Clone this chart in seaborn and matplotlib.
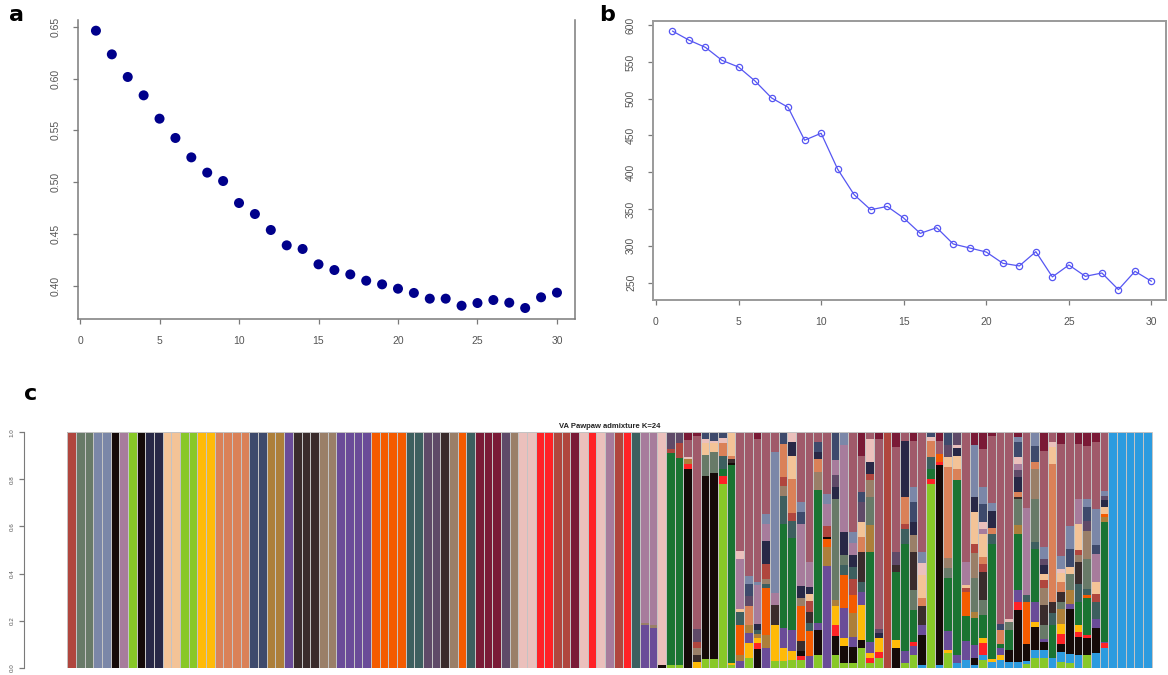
import matplotlib
matplotlib.use("Agg")
import matplotlib.pyplot as plt
import seaborn as sns

# ---------------------------------------------------------------- data
k_values = list(range(1, 31))

# panel a: cross-validation error for each K
cv_error = [0.6461, 0.6233, 0.6015, 0.5838, 0.5613, 0.5427, 0.5240, 0.5093,
            0.5012, 0.4800, 0.4694, 0.4540, 0.4392, 0.4357, 0.4209, 0.4154,
            0.4112, 0.4051, 0.4016, 0.3974, 0.3933, 0.3878, 0.3878, 0.3810,
            0.3836, 0.3865, 0.3839, 0.3788, 0.3891, 0.3936]

# panel b: second statistic for each K
k_statistic = [591.9, 579.6, 569.7, 552.1, 543.0, 524.0, 501.0, 488.3, 443.5,
               453.0, 404.2, 369.4, 349.0, 353.5, 337.7, 316.9, 324.6, 302.4,
               297.0, 291.5, 276.2, 272.6, 292.0, 257.7, 273.9, 258.5, 263.0,
               240.4, 265.3, 251.8]

# panel c: ancestry clusters and their colours
cluster_names = ["lime", "blue", "black", "red", "gold", "purple", "orange",
                 "ochre", "green", "brick", "teal", "sage", "taupe", "umber",
                 "salmon", "peach", "blush", "slate", "navy", "plum", "mauve",
                 "steel", "rose", "maroon"]
cluster_colors = ["#88C828", "#2C9BDF", "#150A08", "#FF2226", "#FFBA08",
                  "#6A4C98", "#F45B00", "#AD7F3A", "#1A7432", "#B0463E",
                  "#3D5F5F", "#687A68", "#9A7F68", "#3A2C2C", "#DA8158",
                  "#F3C397", "#EBC0BC", "#3E4A6C", "#282846", "#5F4A68",
                  "#A77C9C", "#7B87A8", "#A05A6A", "#7A1A36"]

# single-cluster individuals (samples 1-66)
pure_samples = ["brick", "sage", "sage", "steel", "steel", "black", "mauve",
                "lime", "black", "navy", "navy", "peach", "peach", "lime",
                "lime", "gold", "gold", "salmon", "salmon", "salmon", "salmon",
                "slate", "slate", "ochre", "ochre", "purple", "umber", "umber",
                "umber", "taupe", "taupe", "purple", "purple", "purple",
                "purple", "orange", "orange", "orange", "orange", "teal",
                "teal", "plum", "plum", "umber", "taupe", "orange", "teal",
                "maroon", "maroon", "maroon", "plum", "taupe", "blush",
                "blush", "red", "red", "brick", "brick", "maroon", "blush",
                "red", "blush", "mauve", "brick", "red", "teal"]

# admixed individuals (samples 67-120), ancestry % listed bottom to top
admixed_samples = [
    "purple:18 taupe:1 mauve:81",
    "purple:17 taupe:1 mauve:82",
    "black:1 blush:99",
    "lime:1 green:90 brick:2 plum:7",
    "lime:1 green:88 brick:6.5 plum:4.5",
    "black:85 red:2 ochre:2 blush:1 rose:7 maroon:3.5",
    "gold:2.5 umber:3 taupe:3 brick:2.5 plum:5.5 rose:82 maroon:1.5",
    "lime:3.5 black:78 sage:9 peach:5 blush:1.5 slate:3",
    "lime:3.5 black:79 sage:9 peach:4 blush:1 slate:3.5",
    "lime:78 red:3.5 green:3 teal:5.5 salmon:5.5 blush:2 slate:2.5",
    "lime:1 gold:1 green:84 black:1 umber:1.5 salmon:1.5 peach:9.5 maroon:0.5",
    "purple:2.7 ochre:2.8 orange:12.8 teal:5.4 peach:1 mauve:21.3 blush:3.5 rose:50.4",
    "lime:4 gold:6.4 purple:4.3 ochre:3.6 salmon:7.8 plum:4.3 slate:5 steel:3.6 rose:61",
    "black:8 red:2.4 gold:2 ochre:2 teal:1.4 navy:2.8 mauve:16.3 steel:1.4 rose:60.4 maroon:2.8",
    "purple:8.4 ochre:5.7 orange:20 teal:1.7 taupe:1.8 brick:6.4 navy:10 mauve:7 steel:4.3 rose:34.8",
    "lime:2.7 gold:15.6 umber:8.5 mauve:5 steel:59.7 rose:8.5",
    "lime:2.7 gold:5.7 purple:8.5 green:44 teal:12 taupe:4.3 brick:3.6 salmon:14.2 slate:5",
    "lime:3.4 gold:3.6 purple:9.2 green:39 teal:7.1 brick:3.6 salmon:14.2 peach:10 navy:5.7 blush:4.3",
    "lime:3.4 red:1.4 black:2.1 umber:4.3 orange:15 taupe:3.6 navy:5 mauve:26.3 slate:5 steel:4.3 rose:29.8",
    "purple:4.8 orange:10.6 teal:3.5 umber:4.2 brick:4.9 peach:2.8 navy:2.8 mauve:10.6 rose:54.3",
    "lime:5.5 black:10.6 purple:2.8 green:56.4 taupe:7.8 salmon:5.6 navy:2.8 slate:4.2 rose:4.2",
    "purple:43 ochre:7.8 orange:3.5 black:0.7 brick:5 mauve:9.2 steel:4.2 rose:26",
    "lime:5.5 black:7.8 red:5 gold:7.8 ochre:2.8 sage:43 navy:5 plum:5 mauve:6.3 slate:12",
    "lime:2 black:7 gold:3.5 purple:12.7 orange:14.1 teal:4.2 sage:4.2 navy:9.9 mauve:36.7 steel:5.6",
    "lime:2 black:7 purple:4.2 ochre:9.9 orange:7.8 brick:7 teal:5 navy:5 mauve:5 steel:5 rose:42.3",
    "lime:8.3 black:3.5 gold:14.8 purple:5.6 teal:4.2 umber:12.7 salmon:6.3 peach:6.3 plum:8.5 slate:4.2 rose:15.5 maroon:9.9",
    "lime:2 red:2.1 gold:2.1 purple:4.9 green:38 ochre:11.3 sage:12 taupe:7 brick:2.8 navy:4.9 blush:9.9 rose:2.8",
    "lime:4 red:2.8 gold:5.6 navy:2.1 plum:2.1 rose:80.4 maroon:2.8",
    "brick:100",
    "black:8.3 gold:3.5 green:29 umber:2.8 plum:5.6 rose:44.4 maroon:6.3",
    "lime:2 purple:4.9 green:45.8 teal:6.3 brick:2.1 salmon:11.3 navy:24 rose:3.5",
    "lime:5.5 purple:3.5 red:2.1 green:13.4 sage:8.5 umber:16.2 taupe:7 navy:5.6 slate:8.5 steel:6.3 rose:19.7 maroon:3.5",
    "blue:1.3 black:12.7 purple:4.2 umber:7.8 salmon:3.5 peach:9.9 blush:4.9 steel:4.9 rose:50.8",
    "lime:77.7 red:2.5 green:4.2 teal:4.9 salmon:7 blush:1.4 slate:2.1",
    "blue:1.3 black:84.6 red:1.4 orange:3.5 rose:5.6 maroon:3.5",
    "lime:6.2 gold:1.4 purple:7.8 green:22.6 sage:4.2 taupe:4.2 salmon:38.8 peach:4.2 plum:5 slate:5.6",
    "blue:2 purple:3.5 green:77.6 salmon:5 peach:5.6 navy:3.5 blush:1.4 plum:5.6",
    "blue:3.4 purple:7.8 green:10.6 orange:10.6 brick:1.4 peach:1.4 mauve:9.9 rose:55",
    "blue:1.3 black:2.8 purple:5.6 green:11.3 ochre:2.8 sage:14.1 taupe:10.6 brick:4.2 peach:13.4 navy:6.3 steel:21.9 maroon:5.6",
    "lime:3.3 blue:2.1 red:5 gold:2.1 green:9.9 sage:6.4 umber:12 brick:3.5 salmon:2.8 peach:9.9 mauve:2.1 blush:2.8 slate:7.8 steel:7.1 rose:16.3 maroon:7.1",
    "blue:2.5 gold:1.4 green:49.6 teal:4.2 salmon:2.8 navy:7.1 steel:3.5 rose:29 maroon:1.5",
    "blue:3.3 gold:2.1 purple:2.8 green:2.1 salmon:5.7 slate:2.8 rose:81.4",
    "blue:2.5 black:5 green:8.5 sage:3.5 blush:1.4 rose:79.3",
    "blue:2.5 black:22 red:3.5 purple:5 green:24 ochre:3.5 sage:11 umber:1 salmon:2.1 navy:6.4 plum:2.8 mauve:2.8 blush:2.8 slate:6.4 steel:2.1 maroon:2.1",
    "lime:1.4 blue:1.4 black:7.1 orange:17.7 teal:2.8 mauve:36.8 rose:31.9",
    "lime:4 blue:3.5 black:9.9 gold:2.1 purple:8.5 green:22.7 teal:2.8 sage:18.4 taupe:12.7 salmon:2.8 slate:7.1 steel:5.7",
    "lime:4 blue:3.5 black:3.5 purple:1.4 sage:5.7 umber:8.5 taupe:7.1 brick:3.5 peach:2.8 navy:3.5 plum:2.8 steel:5 rose:41 maroon:7.8",
    "blue:4 green:14.4 teal:4.7 umber:5 salmon:58.8 peach:7.1 blush:2.1 rose:4.2",
    "lime:2.5 blue:4.2 black:3.5 red:4.2 gold:4.2 ochre:6.4 sage:2.8 umber:4.2 salmon:4.2 peach:4.2 blush:1.4 steel:5.7 rose:47.5 maroon:5",
    "lime:1.8 blue:4.2 black:19 purple:2.1 ochre:5.7 sage:7.1 peach:2.8 slate:7.8 steel:9.9 rose:39.6",
    "blue:5.4 black:7.8 red:2.1 gold:2.8 green:9.9 teal:7.8 umber:9.2 taupe:2.8 brick:2.1 peach:11.3 mauve:10.6 rose:23.4 maroon:5",
    "lime:5.4 black:7.1 red:1.4 green:15.6 orange:1.4 teal:2.8 sage:12.7 taupe:12 plum:4.2 slate:5.7 steel:3.5 rose:22.7 maroon:5.7",
    "blue:6.1 black:10.6 purple:4.2 teal:7.1 brick:3.5 peach:5 mauve:12 slate:3.5 steel:15.6 rose:28.3 maroon:4.2",
    "blue:8.2 red:2.1 purple:0.7 green:51 ochre:2.1 orange:1.4 peach:2.8 navy:2.8 plum:2.1 steel:2.1 rose:24.8",
]

# single-cluster individuals at the end (samples 121-125)
tail_samples = ["blue", "blue", "blue", "blue", "blue"]

y_ticks_c = [0.0, 0.2, 0.4, 0.6, 0.8, 1.0]
title_c = "VA Pawpaw admixture K=24"

# ---------------------------------------------------------------- style
sns.set_theme(style="white")
plt.rcParams["font.family"] = ["Liberation Sans", "DejaVu Sans"]
AXIS_GREY = "#7a7a7a"
TEXT_GREY = "#555555"

W, H = 1168, 675
fig = plt.figure(figsize=(W / 100, H / 100), dpi=100)


def px_box(left, top, right, bottom):
    return [left / W, 1 - bottom / H, (right - left) / W, (bottom - top) / H]


def style_axes(ax, sides, label_size=7.5, pad=9):
    for side in ["left", "right", "top", "bottom"]:
        ax.spines[side].set_visible(side in sides)
        ax.spines[side].set_color(AXIS_GREY)
        ax.spines[side].set_linewidth(1.1)
    ax.tick_params(axis="both", direction="out", length=3.5, width=0.9,
                   color=AXIS_GREY, labelcolor=TEXT_GREY,
                   labelsize=label_size, pad=pad,
                   left=True, bottom=True)
    for lab in ax.get_yticklabels():
        lab.set_rotation(90)
        lab.set_va("center")


# ---------------------------------------------------------------- panel a
ax_a = fig.add_axes(px_box(77.5, 19.6, 575.4, 319.1))
sns.scatterplot(x=k_values, y=cv_error, color="#00008B", s=52,
                edgecolor="none", ax=ax_a)
ax_a.set_xlim(-0.16, 31.16)
ax_a.set_ylim(0.3681, 0.6568)
ax_a.set_xticks([0, 5, 10, 15, 20, 25, 30])
ax_a.set_yticks([0.40, 0.45, 0.50, 0.55, 0.60, 0.65])
ax_a.set_yticklabels(["0.40", "0.45", "0.50", "0.55", "0.60", "0.65"])
style_axes(ax_a, ["left", "bottom", "right"])

# ---------------------------------------------------------------- panel b
ax_b = fig.add_axes(px_box(653.3, 20.7, 1166, 300))
sns.lineplot(x=k_values, y=k_statistic, color="#5656F2", linewidth=0.9,
             marker="o", markersize=4.5, markerfacecolor="none",
             markeredgecolor="#5656F2", markeredgewidth=0.9, ax=ax_b)
ax_b.set_xlim(-0.16, 30.88)
ax_b.set_ylim(226.3, 606.0)
ax_b.set_xticks([0, 5, 10, 15, 20, 25, 30])
ax_b.set_yticks([250, 300, 350, 400, 450, 500, 550, 600])
ax_b.set_yticklabels(["250", "300", "350", "400", "450", "500", "550", "600"])
style_axes(ax_b, ["left", "bottom", "right", "top"])
for side in ax_b.spines.values():
    side.set_color("#9a9a9a")
    side.set_linewidth(1.4)

# ---------------------------------------------------------------- panel c
palette = dict(zip(cluster_names, cluster_colors))


def parse_sample(entry):
    if ":" not in entry:
        return [(entry, 1.0)]
    parts = [p.split(":") for p in entry.split()]
    segs = [(name, float(val)) for name, val in parts]
    total = sum(v for _, v in segs)
    return [(name, v / total) for name, v in segs]


samples = pure_samples + admixed_samples + tail_samples
ax_c = fig.add_axes(px_box(23.9, 432.3, 1154.3, 667.7))
for i, entry in enumerate(samples):
    base = 0.0
    for name, share in parse_sample(entry):
        ax_c.bar(i, share, width=1.0, bottom=base, align="edge",
                 color=palette[name], linewidth=0)
        base += share
ax_c.bar(range(len(samples)), [1.0] * len(samples), width=1.0, align="edge",
         fill=False, edgecolor="#c4c4c4", linewidth=0.7)
ax_c.set_xlim(-5, 125.3)
ax_c.set_ylim(0, 1)
ax_c.set_xticks([])
ax_c.set_yticks(y_ticks_c)
ax_c.set_yticklabels([f"{v:.1f}" for v in y_ticks_c])
style_axes(ax_c, ["left"], label_size=4.5, pad=3)
ax_c.tick_params(axis="y", length=3.5)
ax_c.spines["left"].set_bounds(0, 1)
ax_c.spines["left"].set_linewidth(0.8)

fig.text(609.5 / W, 1 - 427 / H, title_c, ha="center", va="center",
         fontsize=5.5, fontweight="bold", color="#222222")

# ---------------------------------------------------------------- panel letters
for letter, x, y in [("a", 9, 21), ("b", 599, 21), ("c", 24, 400)]:
    fig.text(x / W, 1 - y / H, letter, ha="left", va="baseline",
             fontsize=16, fontweight="bold", color="black",
             family=["DejaVu Sans"])

fig.savefig("out.png", dpi=100)
